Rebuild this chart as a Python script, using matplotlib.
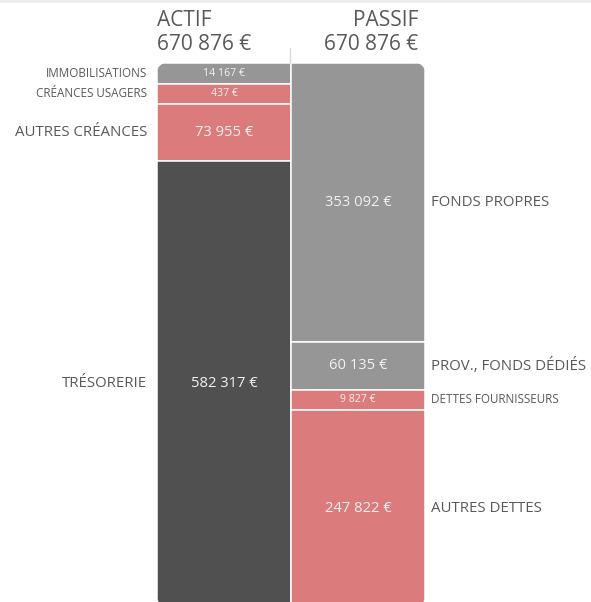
import matplotlib.pyplot as plt
from matplotlib.patches import FancyBboxPatch
import matplotlib.transforms as mtransforms

plt.rcParams['font.family'] = ['Open Sans', 'DejaVu Sans']

columns = ["ACTIF", "PASSIF"]
actif_labels = ["IMMOBILISATIONS", "CRÉANCES USAGERS", "AUTRES CRÉANCES", "TRÉSORERIE"]
actif_values = [14167, 437, 73955, 582317]
passif_labels = ["FONDS PROPRES", "PROV., FONDS DÉDIÉS", "DETTES FOURNISSEURS", "AUTRES DETTES"]
passif_values = [353092, 60135, 9827, 247822]

actif_colors = ["#969696", "#db7b7b", "#db7b7b", "#505050"]
passif_colors = ["#969696", "#969696", "#db7b7b", "#db7b7b"]

LABEL_COLOR = "#595959"
VALUE_COLOR = "#f2f2f2"
MIN_SHARE = 20.5 / 543  # small segments get a minimum visible height


def fmt(v):
    return f"{v:,}".replace(",", " ") + " €"


def display_heights(values):
    total = sum(values)
    min_h = total * MIN_SHARE
    small = [v < min_h for v in values]
    big_sum = sum(v for v, s in zip(values, small) if not s)
    rest = total - min_h * sum(small)
    return [min_h if s else v * rest / big_sum for v, s in zip(values, small)], small


fig = plt.figure(figsize=(5.91, 6.02), dpi=100)
ax_w, ax_h = 268, 543
ax = fig.add_axes([157 / 591, -4 / 602, ax_w / 591, ax_h / 602])
total = sum(actif_values)
ax.set_xlim(-0.5, 1.5)
ax.set_ylim(total, 0)
ax.axis("off")

clip = FancyBboxPatch((0, 0), 1, 1, boxstyle="round,pad=0,rounding_size=0.04",
                      mutation_aspect=ax_w / ax_h, transform=ax.transAxes,
                      facecolor="none", edgecolor="none")

side_tr = mtransforms.blended_transform_factory(ax.transAxes, ax.transData)
sides = [
    (actif_labels, actif_values, actif_colors, -10 / ax_w, "right"),
    (passif_labels, passif_values, passif_colors, 1 + 6 / ax_w, "left"),
]
for i, (labels, values, colors, lx, ha) in enumerate(sides):
    heights, small = display_heights(values)
    bottom = 0
    for lab, v, h, c, s in zip(labels, values, heights, colors, small):
        bars = ax.bar(i, h, bottom=bottom, width=1, color=c,
                      edgecolor="white", linewidth=1.1)
        for b in bars:
            b.set_clip_path(clip)
        mid = bottom + h / 2
        ax.text(i, mid, fmt(v), ha="center", va="center", color=VALUE_COLOR,
                fontsize=7.6 if s else 10.6)
        ax.text(lx, mid, lab, ha=ha, va="center", color=LABEL_COLOR,
                fontsize=8.4 if s else 10.8, transform=side_tr)
        bottom += h

# headers
fig.text(157 / 591, 1 - 21 / 602, columns[0], ha="left", va="center",
         fontsize=15, color=LABEL_COLOR)
fig.text(157 / 591, 1 - 44 / 602, fmt(sum(actif_values)), ha="left", va="center",
         fontsize=15, color=LABEL_COLOR)
fig.text(418 / 591, 1 - 21 / 602, columns[1], ha="right", va="center",
         fontsize=15, color=LABEL_COLOR)
fig.text(418 / 591, 1 - 44 / 602, fmt(sum(passif_values)), ha="right", va="center",
         fontsize=15, color=LABEL_COLOR)

# separator above the columns
fig.add_artist(plt.Line2D([290 / 591, 290 / 591], [1 - 48 / 602, 1 - 63 / 602],
                          color="#d9d9d9", linewidth=1))
fig.add_artist(plt.Line2D([0, 1], [1 - 1 / 602, 1 - 1 / 602],
                          color="#ececec", linewidth=2))

fig.savefig("out.png", dpi=100)
